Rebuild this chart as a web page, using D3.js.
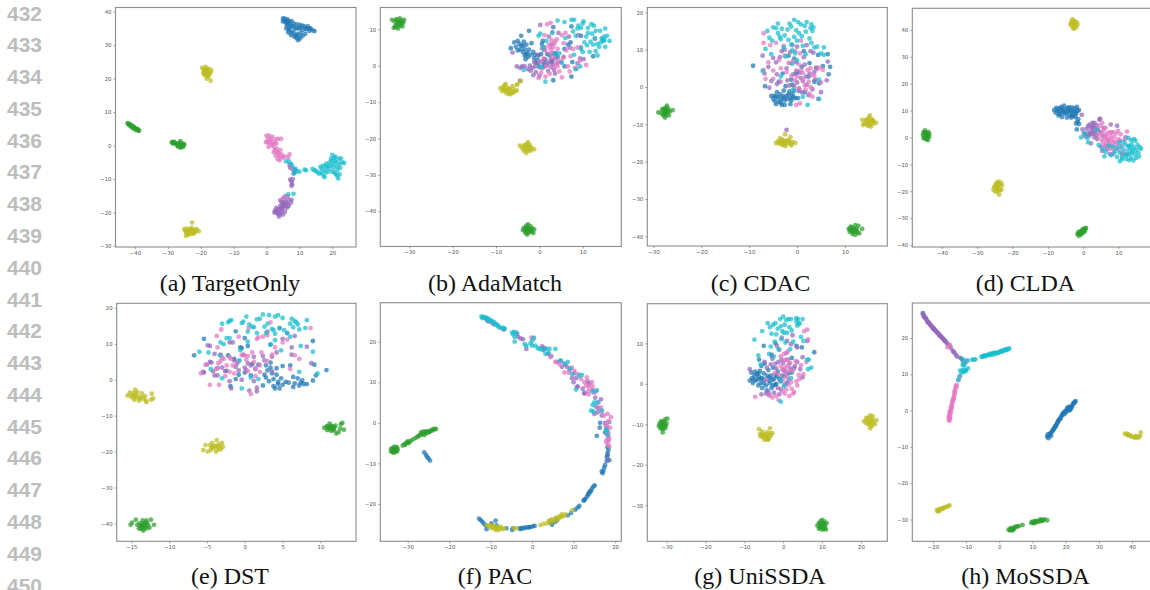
<!DOCTYPE html>
<html><head><meta charset="utf-8">
<style>html,body{margin:0;padding:0;background:#fff;overflow:hidden}svg{display:block}</style>
<script src="https://cdnjs.cloudflare.com/ajax/libs/d3/7.8.5/d3.min.js"></script>
</head><body>
<script>
const lineNumbers=[432,433,434,435,436,437,438,439,440,441,442,443,444,445,446,447,448,449,450];
const captions=["(a) TargetOnly","(b) AdaMatch","(c) CDAC","(d) CLDA","(e) DST","(f) PAC","(g) UniSSDA","(h) MoSSDA"];
const classNames=["blue","green","purple","pink","olive","cyan"];
const classColors=["#1f77b4","#2ca02c","#9467bd","#e377c2","#bcbd22","#17becf"];

const xTicks=[[-40,-30,-20,-10,0,10,20],[-30,-20,-10,0,10],[-30,-20,-10,0,10],[-40,-30,-20,-10,0,10],[-15,-10,-5,0,5,10],[-30,-20,-10,0,10,20],[-30,-20,-10,0,10,20],[-20,-10,0,10,20,30,40]];
const yTicks=[[-30,-20,-10,0,10,20,30,40],[-40,-30,-20,-10,0,10],[-40,-30,-20,-10,0,10,20],[-40,-30,-20,-10,0,10,20,30,40],[-40,-30,-20,-10,0,10,20],[-20,-10,0,10,20],[-30,-20,-10,0,10],[-30,-20,-10,0,10,20]];
const xDomains=[[-45.9,27.2],[-36.7,18.9],[-31.3,18.85],[-48.4,19.5],[-16.93,14.7],[-36.6,21.5],[-34.97,26.8],[-26.2,46]];
const yDomains=[[-30.3,41.25],[-49.7,16],[-42.6,21.3],[-40.7,48],[-45,21.3],[-29.2,29.6],[-38.9,19.8],[-36,29.6]];

const a_blue=[[5,38],[5.6,37.9],[6.4,37.7],[5,37.1],[5.8,36.8],[6.8,37],[7.6,37.2],[8.2,36.5],[9,36.2],[10,36.1],[10.8,35.8],[11.6,35.6],[12.6,35.6],[13.4,35],[14,34.4],[14.6,34.2],[13,34.3],[12,34.8],[11,34.5],[9.8,35],[8.6,35.2],[7.4,35.6],[6.2,35.9],[6,35],[6.8,34.5],[7.6,33.8],[8.2,34],[6.6,33.8],[7.4,33],[8.4,32.6],[9,32.2],[9.6,31.5],[10.2,32],[11,32.8],[11.8,33.4],[9.4,33.4],[10.4,33.6],[5.4,37.4],[6.2,37.2],[7,36.4],[8,35.6],[9.2,35],[10.4,35.2],[12,35],[13,35],[8.8,33],[9.8,32.6],[7,35],[6.4,36.4]];
const a_green=[[-42.2,6.7],[-41.8,6.3],[-41.3,6.1],[-41,5.7],[-40.5,5.6],[-40.2,5.2],[-39.8,5.1],[-39.3,4.7],[-38.7,4.4],[-41.6,6],[-40.8,5.3],[-39.9,4.7],[-42,6.5],[-41.5,6.4],[-41.1,6],[-40.7,5.8],[-40.3,5.5],[-39.6,5],[-39.1,4.9],[-39,4.5],[-28.8,0.9],[-28.4,0.6],[-28,1.1],[-27.6,0.6],[-27.2,0.3],[-26.8,0],[-26.4,0.8],[-26.2,-0.3],[-25.8,0.1],[-25.4,-0.4],[-25,0.4],[-26.2,1.3],[-27,-0.2],[-26,-0.5],[-25.2,0.1],[-28.6,1.1],[-28.2,0.8],[-26.6,0.4],[-26,0.6],[-25.6,0.6],[-26.4,-0.5],[-27,0.6]];
const a_purple=[[2.4,-20],[2.6,-19.4],[3,-18.6],[3.4,-20.4],[3.8,-19.6],[3.8,-21.2],[4.2,-18],[4.4,-20],[4.6,-17],[4.8,-19],[5,-20.6],[5.2,-16],[5.2,-18.2],[5.6,-19.8],[6,-17],[6.2,-18.6],[6.6,-16],[6.8,-18],[7.4,-17],[7.6,-16.2],[4.2,-16.4],[5.6,-15.2],[3,-20],[3.4,-19],[4,-20.6],[4.6,-18.6],[5,-17.6],[5.4,-17],[5.8,-18],[6.4,-17.4],[4.2,-19],[7.2,-10.2],[7.6,-10.8],[7.8,-11.6],[8,-10],[8.4,-8.2],[7.6,-12],[8.6,-8],[7.2,-6.6],[8.2,-7],[7,-5.8]];
const a_pink=[[0,3],[0.4,2],[0.8,3],[-0.2,1],[1,1.4],[1.2,0.4],[0.6,-0.4],[1.8,2.6],[2,1],[2.4,-0.6],[2.8,1.8],[3,0.6],[3.2,-1],[4.4,2],[2.2,-2],[2.8,-3],[3.2,-2],[3.4,-4],[3.8,-3],[4.2,-1.4],[4.6,-2.6],[5,-3.6],[5.6,-3.2],[4,-4.4],[7,-2.6],[6.6,-3.6],[7.4,-6.4],[7.8,-7],[6.4,-15],[5,-15.8],[0.4,1],[1.4,2],[1.6,0],[2.4,0.6],[3.4,2],[2.6,-1.4],[3.6,-2.2],[4.4,-3.4]];
const a_olive=[[-19.6,23.2],[-19,22.2],[-18.6,23.5],[-18.2,22.4],[-17.6,22.9],[-16.8,22.5],[-18.6,21.4],[-18,21],[-17.4,21.5],[-17,21.8],[-17.6,20.6],[-18.2,20],[-17,19.4],[-19.2,21.6],[-18.4,22.6],[-19,22.8],[-18,23],[-17.8,22],[-18.4,21.6],[-17.6,21.2],[-18.8,21],[-25,-25],[-24.6,-25.6],[-24.2,-24.8],[-24,-26.6],[-23.6,-25.2],[-23.2,-26],[-22.8,-24.6],[-22.6,-23],[-22.2,-25.2],[-22,-26],[-21.6,-25.6],[-21.2,-25],[-20.6,-25.6],[-24.5,-27],[-23.6,-26.6],[-22,-26.2],[-24,-25.6],[-23.4,-25.4],[-22.6,-25.8],[-23,-25],[-21.8,-25.2],[-24.4,-26],[-22.8,-26.4]];
const a_cyan=[[5.9,-4.7],[6.8,-4.8],[7.4,-5.4],[7.8,-6],[8.4,-7.2],[8.8,-7],[9.2,-7.6],[10,-7.8],[8.2,-8.4],[12,-7.4],[11.6,-7.2],[14,-7],[14.6,-7.4],[15,-7.6],[15.6,-8],[16,-8.4],[16.4,-6.4],[16.8,-7],[17.2,-6],[17.4,-9],[17.6,-9.4],[17.8,-7.6],[18.2,-5.4],[18.6,-6.2],[19,-7],[19.2,-5],[19.6,-4],[20,-2.8],[20.2,-5.6],[20.4,-6.6],[20.6,-8],[20.8,-4.6],[21,-3.4],[21.4,-6.2],[21.6,-7.2],[21.8,-9.8],[22,-4],[22.2,-8.6],[22.2,-5.4],[22.6,-3.8],[23,-5],[23.6,-5.2],[21.4,-9],[19.8,-7.8],[6.6,-14.6],[8.2,-14.4],[18,-6.4],[19.4,-6],[20,-4.6],[20.6,-3.6],[21.2,-5],[21,-8.4],[18.4,-8],[16.8,-8.2],[22.4,-6.6]];

const b_blue=[[-6.6,4.8],[-5.8,6.4],[-5.4,5.2],[-5,6.8],[-5,4.2],[-4.6,6],[-4.2,8.2],[-4.2,5.4],[-3.8,3.8],[-3.6,6.6],[-3.4,4.6],[-3.4,2.8],[-3,5.8],[-3.2,1.8],[-2.8,3.6],[-2.6,2.4],[-2.4,4.4],[-2.4,9.6],[-2,3],[-1.8,6.2],[-1.4,3.8],[-1.2,2],[-0.8,0.8],[-0.4,1.6],[-0.2,2.8],[0,-0.4],[0.4,3.2],[0.6,6],[0.8,6.8],[1,4.4],[1.2,1.8],[1.4,0.6],[1.8,3.2],[2.4,2.8],[2.8,1],[3.4,3.4],[3.8,3.4],[4.2,2.4],[3.2,-4],[3.2,10.6],[5.8,4.6],[5.8,-0.2],[6.6,5.8],[7.2,6.4],[7.4,10.8],[7.4,-3],[7.6,1],[12.4,2.6],[9.6,8.2],[-4.4,4.4],[-3.8,5.6],[-3,3.2],[-1,3],[-0.2,0.6],[1,0.2]];
const b_green=[[-34,12.6],[-33.4,12.2],[-33.2,11],[-33,12.8],[-32.8,11.6],[-32.6,10.2],[-32.4,12.2],[-32.2,13],[-32,11.2],[-31.8,12.4],[-31.6,10.8],[-31.4,11.8],[-33.6,10.4],[-31.2,12.6],[-32.4,11],[-32.8,12.4],[-32,12],[-32.6,11.4],[-33.2,10.6],[-31.6,12],[-3.8,-45.2],[-3.6,-44.6],[-3.2,-46],[-3,-44],[-3,-45.2],[-2.8,-46.4],[-2.6,-43.6],[-2.4,-44.8],[-2.4,-45.8],[-2,-44.2],[-2,-45.4],[-1.6,-44.8],[-1.4,-46],[-1.2,-45],[-2.8,-44.6],[-3.3,-45.4],[-2.6,-45.2],[-2.2,-45],[-3.2,-44.6],[-2.8,-45.8],[-1.8,-45.6]];
const b_purple=[[-6.2,3.6],[-5.2,-0.2],[-4.4,-0.6],[-4,-0.2],[-3.4,-0.2],[-2.6,-1],[-2.2,0],[-2,-1.4],[-1.6,-0.6],[-1.4,-2.6],[-1,-0.2],[-0.8,-1.8],[-0.4,3],[0,-2.8],[0.2,11.2],[0.6,1.2],[1,-0.4],[1.4,1.6],[1.8,0],[2,-1.4],[2.2,8],[2.6,1.6],[2.8,-0.4],[3.2,0.4],[3.4,-1.2],[3.6,2],[3.6,-2.2],[4.4,9],[4.2,0.8],[5,1],[5.6,2.4],[6.8,8],[7,5],[8.8,0.6],[9,8.4],[9.6,5],[9.4,2],[10.2,1.8],[12.8,7.4],[1.2,5],[2.8,5.8],[-4.5,-4.2],[-1.2,1],[2.2,0.8],[3,1.4]];
const b_pink=[[-0.2,-3.4],[0,1],[0.4,-2],[0.6,-0.8],[1,2],[1.2,8.4],[1.4,4.2],[1.6,0],[1.8,11.4],[2.2,5.8],[2.4,3.4],[2.4,-2.2],[2.6,11.8],[2.8,7],[3,9.2],[3.2,5.2],[3.2,2.4],[3.4,-0.6],[3.6,6.6],[3.8,0.4],[4,7.2],[4.2,4.6],[4.2,-0.2],[4.4,1.4],[4.6,-1.6],[5.2,-3.2],[5.2,8.4],[5.4,2],[5.6,6.2],[6,9],[6.2,4.2],[6.6,-0.2],[7,-1.6],[7.2,2.6],[7.8,4.6],[8.2,-0.6],[8.8,5],[8.6,-0.8],[10.8,0.2],[9.4,1.4],[0.6,4.8],[3,3.4],[2.4,5],[3.4,6],[2.8,4.4],[1.4,-3]];
const b_olive=[[-9,-6.2],[-8.6,-7],[-8.4,-5.8],[-8,-6.8],[-7.8,-5],[-7.6,-7.6],[-7.4,-6],[-7,-7.8],[-6.8,-6.6],[-6.4,-7.4],[-6.2,-5.6],[-6,-7.4],[-5.6,-7],[-5.2,-6.8],[-5.1,-5.2],[-7.6,-6.8],[-4.3,-4.2],[-5.2,-5.2],[-8.2,-6.4],[-7.2,-7],[-6.6,-7.8],[-8,-5.4],[-6,-6.4],[-7,-6.4],[-4.5,-22],[-4,-22.6],[-3.6,-22],[-3.4,-23],[-3.2,-21.8],[-2.8,-23.4],[-2.8,-22.2],[-2.6,-21],[-2.2,-23],[-2.2,-21.8],[-1.8,-22.6],[-1.2,-23],[-3,-24],[-3,-22.8],[-2.4,-22.4],[-3.4,-22.4],[-2,-23.4],[-2.8,-21.4],[-3.6,-23.4]];
const b_cyan=[[-3.6,-1.2],[-0.2,8.2],[0.2,8.8],[0.6,-0.4],[0.8,5],[1.4,-4.4],[1.6,6.8],[3,9],[3.4,3.2],[4.2,12.4],[4.6,3.4],[5.2,0.8],[5.8,12],[6,7.6],[7.4,12.6],[7.8,9.4],[8,12.6],[8,3],[8.4,8.2],[8.4,-1],[8.8,10.2],[9,11],[9.4,-0.2],[9.6,10.4],[9.6,4.6],[10,11.6],[10,3.8],[10.2,12.2],[10.4,6.4],[11,5.6],[11.2,9],[11.2,10.4],[11.6,3.8],[11.8,6.6],[12,11.4],[12.2,8.8],[12.4,5.8],[12.6,11],[13,9.6],[13,4],[13.4,6],[13.8,5.2],[14,9.6],[14.4,7.6],[14.8,6.8],[15,8],[15.2,10.2],[15.2,5.2],[15.6,8.2],[16.2,6.8],[14.6,7.2],[13.4,2.8],[14.2,6.4],[15,7],[12.8,7.6],[10.8,8]];

const c_blue=[[-9.2,5.7],[-6.7,0.2],[-5.4,-2.4],[-5,-3.2],[-4.8,-2.4],[-4.6,-3.8],[-4.4,-4.6],[-4.2,-1.4],[-4,-2.8],[-3.8,-4],[-3.6,-2],[-3.4,-3.2],[-3.2,-4.8],[-3,-2.4],[-3,3.6],[-2.8,-1],[-2.6,-3.6],[-2.6,-4.8],[-2.4,0.2],[-2.2,-2.4],[-2,-3.2],[-1.8,-2],[-1.6,-1.2],[-1.4,-4.6],[-1.4,-3],[-1.2,2],[-1,-2],[-1,0.6],[-0.8,-2.6],[-0.6,-1],[-0.4,-3],[-0.2,3.6],[0,4.2],[0.2,-3],[0.4,-1],[1,5.4],[1.6,-1.4],[2.4,2.8],[2.6,6.4],[3.6,1.4],[4.6,1],[4,5],[5.4,5.6],[6.4,8.8],[6.6,3.4],[6.9,5.4],[4.4,8.6],[-1.8,8.4],[-3.4,-4.2],[-2.8,-3],[-4.4,-2.6],[-1.2,-3.6],[-3.8,1.4],[-0.6,7.6],[1.4,9.6]];
const c_green=[[-29,-6.8],[-28.4,-7],[-28.2,-6],[-28,-7.6],[-27.8,-6.4],[-27.6,-8.2],[-27.4,-5.6],[-27.4,-7],[-27.2,-5],[-27,-6.4],[-26.8,-7.6],[-26.6,-6.6],[-26,-6.2],[-27.6,-6.8],[-27.9,-5.8],[-27.6,-6],[-27.2,-6.8],[-27.8,-7.2],[-26.9,-5.8],[-27.4,-7.6],[10.8,-38],[11,-38.8],[11.2,-37.4],[11.4,-38.4],[11.6,-39.4],[11.8,-37.8],[12,-38.6],[12.2,-37],[12.2,-39.6],[12.4,-38],[12.6,-39],[12.8,-37.2],[13,-39.2],[13.6,-38],[11.8,-38.2],[11.4,-37.6],[12.2,-38.2],[11.6,-38.8],[12.4,-38.6],[11,-38.2]];
const c_purple=[[-7.2,8.4],[-6.8,3.6],[-6,5.4],[-5.8,-0.2],[-5.4,1.6],[-5,7.8],[-4.4,6.6],[-4.2,3.4],[-4.2,0.8],[-3.6,8],[-3.2,9.6],[-2.6,10],[-2.2,5],[-2,1.8],[-1.6,0.4],[-1.4,9.4],[-0.8,3.4],[-0.6,0.2],[-0.2,6.6],[0,1.2],[0.4,-0.4],[0.6,3.8],[0.8,2.4],[1,-1.4],[1.4,8],[1.6,6],[2,0.6],[2.4,-2.2],[2.6,3.6],[2.8,9.6],[3.2,-0.6],[3.4,9.2],[3.8,2],[3.6,4],[4,5.2],[4.4,-3.2],[5,-1.4],[6.2,1.8],[6.4,6.8],[1.8,2.8],[-2.2,-11.5],[0,10.8],[-1,11.2],[2,11.2],[1.2,1.6]];
const c_pink=[[-7,14.4],[-7,11.8],[-7,4.6],[-6.6,2.2],[-6,6.6],[-5.6,11.2],[-5,4.4],[-5,2.2],[-4.4,11.8],[-3.8,7.2],[-3.4,5],[-3.4,1.4],[-2.6,8.4],[-2.2,4],[-1.8,6.4],[-1.4,6.4],[-1.2,3],[-0.8,7],[-0.4,1.8],[-0.2,4.4],[0,2.8],[0.4,6],[0.4,-0.6],[0.6,-4.4],[0.8,4.6],[1.2,2],[1.2,3.8],[1.6,0.4],[1.8,-0.8],[2.2,4.6],[2.4,1.4],[2.6,-1.8],[2.8,5],[3,3.2],[3.2,-2.6],[3.6,3],[4.2,4.8],[4.8,5.2],[5,1.2],[5.4,4.6],[-0.2,-4.8],[2.8,0],[0.8,12.4],[-0.4,9.6],[-2.8,11],[0.6,9]];
const c_olive=[[15.9,-9.8],[15.6,-8.6],[15.2,-7.6],[15.2,-9.2],[15.2,-10.2],[14.8,-8.6],[14.6,-10],[14.4,-9.2],[14,-9.8],[13.6,-8.8],[15.8,-9],[16.5,-9.6],[14.9,-9.4],[13.8,-10.2],[15.4,-10.6],[15,-8.2],[14.4,-8.8],[15.6,-9.6],[14.8,-10.4],[16,-9.2],[-4.4,-15],[-4,-14.6],[-3.6,-13.8],[-3.6,-15.2],[-3.2,-14.6],[-3,-15.6],[-2.8,-14.4],[-2.4,-15.8],[-2.4,-14.6],[-2,-15],[-1.8,-14.2],[-1.4,-15.2],[-1.4,-13.4],[-1,-14.8],[-0.4,-15],[-2.5,-12.7],[-3,-15],[-3.8,-15],[-2.6,-15.2],[-1.6,-14.6],[-3.2,-14],[-1.2,-15.6],[-2.2,-14.4]];
const c_cyan=[[-7.2,4.3],[-6.6,10.2],[-6.2,15],[-5.2,12.4],[-5.4,8.8],[-5,16],[-4.4,15.8],[-4,14.4],[-4,17],[-3.6,13.4],[-3.4,12.8],[-3.2,15.6],[-2.8,10.6],[-2.6,13.8],[-2.4,8.2],[-2,15.4],[-1.8,12.6],[-1.6,17],[-1.2,11.4],[-1,6.2],[-1.2,16.2],[-0.6,13.4],[-0.4,9],[-0.6,18],[-0.2,15.2],[0,12.4],[0.2,17.4],[0.4,14.4],[0.8,16.8],[1,13.6],[1.2,11],[1.6,16.4],[1.8,14.8],[2,17.4],[2.2,-4.8],[2.6,13],[2.8,15.8],[3,16.8],[3.2,15],[3.4,16],[3.6,10.6],[4.2,10.8],[4.6,-3.2],[4.6,2],[5.6,10.6],[5,9],[-0.8,-0.8],[1.2,-2.6],[-3.4,2.8],[-5.8,13.2],[-1,9.8],[1.8,8.8],[3,11.8],[0,7.2],[5.6,8.6]];

const d_blue=[[-8.2,10.2],[-7.8,9.2],[-7.6,11],[-7.2,9.8],[-7,8.2],[-6.8,10.8],[-6.4,9.2],[-6.2,11.4],[-6,7.6],[-5.8,10],[-5.4,11.8],[-5.2,8.8],[-5,10.4],[-4.6,7.4],[-4.4,9.6],[-4.4,11],[-4,8.4],[-3.8,10.2],[-3.4,7.4],[-3.2,9.2],[-3.2,11.2],[-2.8,8],[-2.6,9.8],[-2.4,10.8],[-2.2,7.6],[-2,8.8],[-1.8,11.4],[-1.4,6.8],[-1.6,9.8],[-1.2,10.2],[-1.6,5.8],[-2,5.2],[-1.2,5],[-1.8,3],[-5.6,9.6],[-4.8,9.2],[-6.6,8.6],[-3.2,8],[-7,10.4],[-6,10.6],[-4,11.2],[-3.4,9.8],[-2.2,9.2]];
const d_green=[[-45.4,1],[-45.2,-0.2],[-45.2,2],[-44.8,0.4],[-44.8,2.6],[-44.6,1.4],[-44.4,-0.6],[-44.4,1.8],[-44.2,0.4],[-44,-1],[-44,1.2],[-43.8,2],[-43.6,0.2],[-43.6,1.2],[-44.6,0.6],[-45,1.6],[-44.2,1],[-44.9,-0.4],[-44.2,-0.2],[-1.6,-36],[-1.4,-35.2],[-1.2,-36.6],[-1,-35.6],[-0.8,-34.8],[-0.6,-36],[-0.4,-35.2],[-0.2,-34.2],[0,-35],[0.2,-34.6],[0.4,-33.8],[0.6,-34.2],[0.8,-33.6],[-0.2,-35.6],[0.4,-35],[-0.8,-35.4],[0,-34.4],[-1.2,-35.8]];
const d_purple=[[-0.2,3],[0.2,1.4],[0.6,0.4],[1,3.2],[1.2,1.4],[1.6,0.6],[1.8,4.8],[2,2.2],[2.2,-2.2],[2.4,3.4],[2.6,5.4],[2.8,1.4],[3,3.8],[3.2,0],[3.2,5.4],[3.4,2.2],[3.8,4.6],[3.8,1],[4,-0.6],[4.2,3],[4.6,6.6],[4.8,2],[4.8,7],[5,-3.4],[5.4,-5],[5.6,0.6],[5.8,3.6],[6.4,-3.2],[6.8,-4.4],[7.8,4.8],[7.6,-6.2],[8.6,-6],[9.6,4.4],[10.4,-1.2],[11,-6.2],[12,0],[2.6,4],[1.4,4.2],[3,2.8],[2.2,1.2],[3.6,3.4],[-0.4,8.4]];
const d_pink=[[3.6,3],[4.4,0.6],[4.8,4.4],[5.2,-0.8],[5.2,1.8],[5.6,-1.8],[5.8,2.6],[6.2,-0.4],[6.2,0.8],[6.4,3.6],[6.6,-2.2],[6.8,1.4],[7,-3.8],[7.2,-1],[7.4,2],[7.6,-2.8],[7.8,0.4],[8,-0.8],[8.2,-3.2],[8.4,2],[8.6,-4.4],[8.8,0],[9,-1.6],[9.2,1.4],[9.4,-3.4],[9.8,2.4],[10,-0.6],[10.2,-4.6],[10.6,1.2],[11,-3],[11.4,-5.6],[11.8,-0.8],[12.4,-6.4],[12.4,2.2],[7.6,-4.2],[6.6,0],[8,1.8],[5.4,5.4],[6.8,-1],[7.4,-2],[8.6,-1.8],[6,-3],[9.6,-2.2]];
const d_olive=[[-3.6,42],[-3.4,43],[-3.2,41.4],[-3,44],[-3,42.4],[-2.8,40.4],[-2.6,41.8],[-2.4,43.2],[-2.2,42.4],[-2,41],[-1.8,42.8],[-1.6,42],[-2.9,43],[-3.2,42.4],[-2.4,40.6],[-2.6,42.6],[-2.2,41.6],[-25.4,-19.4],[-25.2,-18.4],[-25,-20],[-24.8,-17.8],[-24.6,-19],[-24.4,-16.8],[-24.4,-20.2],[-24.2,-18],[-24,-16.4],[-24,-19.4],[-23.8,-21.2],[-23.6,-17.4],[-23.6,-19.6],[-23.2,-16.8],[-23,-17.8],[-24.6,-17.2],[-23.2,-19.4],[-24.2,-17.4],[-24.6,-18.6],[-24,-18.6]];
const d_cyan=[[-0.6,0],[0.4,1.6],[1.2,-0.2],[1.4,-1.8],[3.8,2.8],[4.4,-2.8],[5.6,-4.2],[6,-7],[6.4,-5.4],[7.2,-3],[8,-6.6],[8.4,-3.4],[9,-5.2],[9.6,-7.2],[9.6,-4],[10.2,-2],[10.4,-5.6],[10.4,-8.8],[10.6,-3.4],[11,-7.4],[11,-8],[11.4,-1.6],[11.4,-4.4],[11.8,-6.4],[12,-2.6],[12.2,-8],[12.6,-5],[12.8,-0.2],[12.8,-3.4],[13,-8.4],[13.2,-6.2],[13.4,-4],[13.6,-1],[13.6,-7.6],[13.8,-2.6],[13.8,-5.6],[14.2,-8.6],[14.4,-0.6],[14.4,-3.8],[14.6,-6.2],[14.8,-1.2],[15,-4.6],[15,-7.6],[15.4,-2.8],[15.6,-5.6],[16,-3.6],[16.4,-4.2],[15.8,-7],[14,-4.8],[12.4,-6.6],[13,-3]];

const e_blue=[[-6.7,6.8],[-5.4,11.4],[-2.4,2.5],[-1.9,-1.8],[-1.4,5.8],[-1.2,0.2],[-1.2,13.5],[-0.8,1.4],[-0.6,9],[-0.4,8.8],[0,2],[0,11.6],[0.4,9.4],[0.8,1.2],[1,4.4],[1.8,4.2],[2.4,-1.6],[2.6,1.4],[2.8,4],[2.8,0.6],[3,2.6],[3.2,-0.4],[3.4,4.8],[3.6,1.8],[3.8,0.2],[3.8,-1.8],[4,-2.4],[4.2,3.2],[4.2,1.4],[4.4,-0.6],[4.6,-2.4],[4.8,0.4],[5,-1.4],[5,3.8],[5.4,-0.6],[5.8,-0.8],[6,4],[6.4,-2],[6.4,0.8],[6.6,-1],[7,0.4],[7.2,-1.6],[7.4,-0.8],[7.6,-0.2],[7.8,-1.2],[8.2,-1.2],[9,-0.2],[9.4,1.2],[10.8,2.7],[9,10.8],[9.2,4.2],[3.4,9.8],[3.4,3.4],[4.4,-1.2],[-2.2,6.8]];
const e_green=[[-15.1,-40.4],[-14.9,-39.8],[-14.4,-39],[-14.2,-40.4],[-14,-41.4],[-13.9,-40],[-13.6,-41],[-13.5,-39.2],[-13.4,-42],[-13.2,-40.4],[-13,-41.4],[-13,-39.2],[-12.8,-40.6],[-12.6,-41.2],[-12.4,-39],[-12,-40.4],[-13.6,-40.4],[-13.2,-41],[-13.8,-40.8],[-13.4,-40],[-12.9,-40],[-13.4,-41.4],[-13.1,-39.8],[-13.7,-41.6],[10.5,-13.4],[10.8,-13],[10.9,-14],[11.2,-12.2],[11.2,-13.4],[11.4,-14.2],[11.6,-13],[11.8,-13.8],[12,-12.8],[12.1,-15],[12.4,-14.6],[12.6,-13.6],[12.7,-12.4],[12.9,-12],[13.1,-13.9],[11.5,-13.4],[11.1,-13.6],[11.4,-12.8],[11.8,-13.2],[11,-13],[11.7,-14.1]];
const e_purple=[[-5.5,2.2],[-5.4,2],[-5,4.2],[-4.9,9.6],[-4.6,9.4],[-4.6,5],[-4.4,4.8],[-4.2,2.4],[-4,7.2],[-4,1.2],[-3.6,3.2],[-3.6,1.2],[-3.2,7],[-3,3.4],[-2.6,2.4],[-2,10.4],[-1.8,-2.4],[-1.6,10.4],[-1.4,5.4],[-1,4.6],[-0.8,2.6],[-0.4,0],[0,3.4],[0.2,2.6],[0.6,-3],[0.8,4],[1.2,6.4],[1.2,-0.4],[1.6,-2.2],[1.6,-3.2],[2.4,6.6],[2.6,5.4],[3,13.4],[3.6,2.4],[3.6,6.4],[4.2,7.6],[4.6,14.4],[5,11.4],[5.6,13],[6.2,9],[6.2,7],[6.6,12.2],[8.8,4.6],[8.2,9.2],[1.4,3],[-0.2,7],[-1.2,3.6],[-2,-0.4],[0.4,4.6]];
const e_pink=[[-5.8,1.8],[-5.2,4.2],[-4.6,-1.4],[-3.7,12.2],[-3.6,9],[-3.5,4.6],[-3.4,-1.4],[-3.2,5.2],[-3.1,14],[-3,6.2],[-2.8,5.8],[-2.6,1],[-2.4,4],[-2,6.2],[-2,2.2],[-1.8,5.8],[-1.4,1.8],[-0.8,12],[-0.8,5.2],[-0.4,6.8],[0,6.8],[0.2,5.6],[0.4,6.6],[0.4,2.4],[0.5,14.4],[0.8,-4],[1,7.6],[1.2,5],[1.4,3.2],[1.6,11.4],[1.8,11.8],[2,4],[2.2,7.6],[2,2.2],[2.4,12],[3,12.4],[3.4,16],[3.6,7],[4,9],[5,10.4],[5.6,11.2],[6.6,6.8],[7.2,5.8],[8.7,14.4],[3,5.2],[6,3],[-1.6,4],[1.4,1],[-3.8,3]];
const e_olive=[[-15.5,-4.4],[-15.2,-3.6],[-15,-4.8],[-14.8,-3.8],[-14.6,-5.6],[-14.5,-2.8],[-14.4,-4.4],[-14.2,-3.4],[-14,-5.8],[-13.8,-4.8],[-13.6,-3.8],[-13.4,-5.2],[-13.1,-5.8],[-13,-6.2],[-12.3,-3.9],[-12.4,-5.6],[-12.1,-5.2],[-14.6,-5],[-13.2,-4.6],[-14.8,-4.4],[-14.2,-4.8],[-13.8,-5.4],[-14.4,-3.8],[-5.5,-19.6],[-5.2,-18.2],[-4.9,-20],[-4.6,-18.2],[-4.5,-19.6],[-4.3,-17.6],[-4.2,-19],[-3.9,-18.4],[-3.8,-20],[-3.7,-16.8],[-3.6,-19.4],[-3.4,-18],[-3.2,-19.4],[-3,-17.6],[-2.9,-18.7],[-4.1,-18.6],[-3.6,-18.4],[-3.3,-18.8],[-4.4,-18.8]];
const e_cyan=[[-6,7.8],[-4.8,7.6],[-4.5,3],[-3.3,6.8],[-3.2,10.4],[-2.8,9.9],[-3,0.4],[-3,15.6],[-2.4,11.6],[-2,11.6],[-2.2,16],[-2,16.4],[-1.8,16.6],[-0.7,5.4],[-0.4,-2.4],[-0.4,15.8],[-0.2,16.2],[0.2,17.6],[0.4,10.6],[0.4,13.4],[0.6,15.4],[0.8,0.6],[1,14.8],[1.2,14.6],[1.6,16.8],[1.6,13],[1.8,0.2],[2,17],[2.4,18.2],[2.6,14.8],[2.8,13],[3,15.6],[3.2,18],[3.4,9.8],[3.6,14.2],[3.8,13.8],[4,17.6],[4,11],[4.4,18],[4,12.8],[4.6,14.4],[4.8,8.2],[5,17.2],[5.2,13.8],[5.6,13],[6,15.6],[6.2,17],[6.4,14.6],[6.6,16.4],[6.8,16],[7,15.4],[7.2,14],[7.2,2.2],[7.4,9.4],[8,14.4],[8.2,16.6],[9,7.8],[9.6,1.8],[6,12],[-0.6,8.2]];

const f_blue=[[-26,-7.3],[-25.6,-7.9],[-25.3,-8.4],[-25,-8.8],[-24.6,-9.3],[-12.8,-23.6],[-12.4,-24],[-12,-24.4],[-11.6,-24.9],[-11.2,-25.3],[-11,-26.2],[-9.8,-24.8],[-8.8,-24.1],[-8.6,-25.3],[-8.2,-25.9],[-6.2,-26],[-4.8,-26.4],[-4.6,-26],[-3,-26],[-2.8,-26.2],[-2.4,-25.9],[-1.6,-25.8],[-1,-25.8],[-0.4,-25.7],[0.2,-25.5],[0.6,-25.4],[4.4,-24.6],[4.8,-25.1],[5,-24.4],[5.6,-24.4],[5.8,-23.6],[6,-24],[8.6,-22.8],[9.4,-22.2],[10.4,-21.4],[11,-20.9],[11.4,-20.5],[12.4,-19.2],[12.8,-18.8],[13.2,-18.2],[13.5,-17.7],[13.8,-17],[14.2,-16.8],[14.4,-16.2],[14.8,-15.7],[15.1,-15.4],[16.8,-12],[17.2,-11.8],[17.4,-11],[17.6,-10.4],[18,-9.4],[18,-8.4],[18.2,-7.4],[18.4,-6.6],[18.2,-8],[18.2,-6],[18.6,-9.2],[16.4,0],[16.3,-1.2],[17.6,-2.4],[15.6,-3.2],[-2,-26],[-0.7,-25.7],[12.6,-19],[13.6,-17.5],[14,-17],[17,-12.4]];
const f_green=[[-33.8,-6.8],[-33.6,-6.2],[-33.6,-7.2],[-33.2,-6.4],[-33,-7],[-32.8,-6.2],[-32.8,-6.9],[-32.4,-6.6],[-33.4,-6.8],[-33.2,-5.9],[-33.3,-7.4],[-32.6,-7.1],[-32.6,-6],[-34,-6.4],[-34,-7.1],[-31.2,-5.6],[-30.8,-5.3],[-30.4,-5],[-30,-4.6],[-29.6,-4.7],[-29.2,-4.4],[-28.6,-4],[-28,-3.7],[-27.6,-3.4],[-27,-3],[-26.6,-2.8],[-26.2,-2.6],[-26,-3],[-25.6,-2.6],[-25.2,-2.4],[-25,-2.1],[-24.6,-2],[-24.2,-1.9],[-23.8,-1.5],[-23.4,-1.6],[-23.2,-1.5],[-26.4,-2.2],[-25.8,-2.2],[-27.3,-3.2],[-26.8,-2.4],[-25.6,-2.2],[-24.8,-2.3],[-24,-1.8],[-30.6,-5.4],[-30.2,-4.9],[-29.8,-5]];
const f_purple=[[-11,25.5],[-10.6,25],[-10.2,25.2],[-9.8,24.8],[-9.4,24.4],[-7,23.2],[-6.8,23],[-3.6,22],[-3.4,21.2],[-2.8,20.8],[-2.2,20.6],[-1.4,18.2],[2.4,18.8],[2.8,18],[3,18.4],[3.8,17],[4.6,16.4],[6,15],[7,15.2],[7.2,13.8],[8,14.4],[8.4,13.8],[9,13],[10.2,12.2],[10.6,11],[9.6,11],[10,10],[11,9],[10.8,8.8],[12.2,8.4],[12.6,7.4],[13.4,10.2],[13.8,9.6],[12.6,7.2],[14.6,8],[15.2,6.2],[16.6,5.8],[15.4,4],[16,3.6],[15.8,2.6],[15,2.2],[16.8,1.8],[17.6,0],[18.6,0.2],[18,-0.8],[18.2,-9]];
const f_pink=[[4.4,16.2],[5.6,15],[6.6,14.4],[7.8,12.4],[8.8,12.4],[9.6,13.6],[10.2,12.8],[11,12],[11.8,10.8],[12.6,10],[13.2,11.2],[13.6,9.2],[13.8,8.4],[14.4,10],[14.6,9],[15,7.4],[13,9.2],[13.4,7.6],[13.6,7],[15.4,7.8],[16,5],[16.6,3.8],[16.8,3],[17.4,1.8],[18.2,2.2],[19,1.4],[18.4,0.4],[17.6,-0.6],[18.8,-1.2],[18.2,-2],[18,-2.8],[18.2,-4],[18.4,-4.6],[18.2,-5.4],[18.6,-5.8],[18.4,-3.4],[-9.6,24.8],[-0.2,21],[0.4,20.8],[18,-1.2],[17.8,-4.6],[18.4,-2.6],[18.6,-4]];
const f_olive=[[-11,-25.2],[-10.4,-25.4],[-10,-25.8],[-9.4,-25.6],[-9,-26],[-8.6,-26.1],[-8.2,-26.5],[-7.8,-26],[-7.2,-26.2],[-6.8,-26],[-4.4,-26],[-3.8,-26],[2,-25.2],[2.8,-24.9],[3.6,-24.8],[4,-24.2],[4.4,-24],[4.8,-23.8],[5.6,-24.2],[5.8,-23.4],[6.6,-23.4],[7,-23.2],[7.6,-23],[8,-22.6],[9.6,-21.6],[-9.6,-25.9],[-8.4,-25.7],[5,-24.2],[6.2,-23.7],[-7.6,-25.6],[-9,-25.4],[-8.8,-26.4],[4.4,-24.6],[6.6,-23],[7.2,-22.6],[-10,-25.3]];
const f_cyan=[[-12.2,26.2],[-11.8,26.1],[-11.4,25.8],[-11,25.8],[-10.4,25.6],[-9.8,25.2],[-9.2,24.8],[-8.8,24.4],[-8.4,24.2],[-8,23.6],[-7.6,23.4],[-7,23.4],[-6.6,23.2],[-4.8,22.2],[-4.4,22.4],[-4.2,21.2],[-4.2,20],[-3.8,22.2],[-1.8,19.4],[-1.4,19],[-0.4,19.6],[0,20.2],[0,19],[0.4,21],[0.8,19],[1.4,18.4],[1.8,18.2],[2.4,18],[3.2,17],[3.4,18.2],[4,17.2],[4.2,18.2],[5.6,18.2],[6.8,15.4],[7.8,14.6],[8.6,15],[9.2,13.4],[9.6,12],[11.4,11.6],[12,11.8],[10.6,8.2],[14.6,7.6],[15.6,8],[15,5],[14.6,4.4],[14.2,3],[14.8,2.8],[15.8,5],[16.8,3],[18,-2],[18.2,-3],[17.8,-1.6],[-12,25.8],[-11.2,26],[-10.8,25.3],[-10,25],[-9,24.2],[-8.2,23.8],[-4.6,21.8]];

const g_blue=[[-8.6,0.8],[-8.2,2.8],[-8,1.4],[-7.8,0.2],[-7.4,2],[-7.2,3],[-7,0.8],[-6.8,2.4],[-6.6,1.2],[-6.4,-0.4],[-6.2,1.8],[-6.2,6],[-6,3.2],[-5.8,0.2],[-5.6,4.4],[-5.4,1.4],[-5.4,-1],[-5,9.4],[-5,2.6],[-4.8,1],[-4.8,5],[-4.4,-0.4],[-4.2,2],[-4.2,-1.6],[-3.8,0.8],[-3.8,3.4],[-3.4,0.2],[-3.2,2],[-3,-1],[-2.8,1],[-2.6,4],[-2.4,1.2],[-2,-0.2],[-2,2.2],[-1.8,0],[-1.4,3],[-1,1.2],[-0.6,0.6],[-0.2,2],[0.4,3.2],[1.4,2.6],[1,0.2],[2.2,2.8],[2.2,6.4],[3.4,9.4],[4.8,9],[8,7.8],[-3,7],[-2,10],[-7.6,1],[-6.4,2.6],[-5.8,1.2],[-5,0.2],[-3.6,1.6],[-2.6,-0.4],[-1.6,1.8]];
const g_green=[[-32,-10.4],[-31.8,-9.8],[-31.6,-11],[-31.4,-9.2],[-31.2,-10.2],[-31,-11.2],[-31,-12],[-30.8,-9.4],[-30.6,-10.4],[-30.4,-8.8],[-30.4,-11],[-30,-9.8],[-29.8,-8.6],[-31,-10.2],[-30.2,-10.4],[-31.4,-10.6],[-30.8,-10.8],[-31.2,-9.6],[-30.6,-9.6],[8.8,-35],[9.2,-34.4],[9.2,-35.8],[9.6,-34],[9.6,-35.2],[10,-33.6],[10,-36],[10.2,-34.8],[10.4,-35.8],[10.6,-34],[10.8,-35],[11,-36],[11.2,-34.4],[9.8,-35],[10.4,-34.4],[9.6,-34.6],[10.2,-35.4],[10.8,-35.6],[9.4,-35.4]];
const g_purple=[[-8.6,3.6],[-5.6,-2.6],[-4.8,5.4],[-4.4,-2.4],[-4.2,4],[-3.8,-2],[-3.6,-2.8],[-3.2,4.8],[-3,7.2],[-2.8,6.2],[-2.4,-2.2],[-2,5],[-1.8,3.8],[-1.6,9.4],[-1.4,-1],[-1,-2.6],[-1,8.4],[-0.6,-1.4],[-0.4,6],[0,5.2],[0,3.4],[0.4,-0.2],[0.8,7.6],[1,10.6],[1.2,6],[1.4,1],[1.8,3.8],[2,9.8],[2.4,12],[2.8,3.8],[3,4.4],[3.6,9],[3.6,5.4],[4.4,3.6],[5,1.6],[6.2,10.6],[5,6.6],[-0.4,11.4],[-1.2,5.4],[0.6,2],[1.6,5]];
const g_pink=[[-7.2,-3.2],[-4.4,1],[-3.6,-2.8],[-2.8,-3.4],[-2.2,2.6],[-1.8,-3],[-1.2,-4],[-1,2.2],[-0.6,4.4],[-0.2,-1.8],[0,1],[0.2,7.4],[0.4,5.8],[0.4,-2.4],[0.6,3],[0.8,-1.4],[1,4.4],[1,1.8],[1.2,8],[1.4,-0.2],[1.6,-3],[1.8,5.2],[2,0.4],[2.2,-1.2],[2.4,3.2],[2.6,-2.4],[2.8,-2],[3.2,5.6],[3.4,0.6],[3.6,-0.4],[4,2.2],[4.2,1.2],[4.6,4.6],[5.2,2.4],[5.4,13],[6,5.4],[6.2,13.4],[6.4,11],[0.8,6],[-0.2,3.6],[-0.6,6.8],[0.4,4],[1.6,3.2]];
const g_olive=[[-6.2,-11.2],[-6,-12.4],[-5.8,-13],[-5.4,-11.8],[-5.2,-13.2],[-5,-12.6],[-4.8,-13.8],[-4.4,-12.4],[-4.2,-13.8],[-4,-12.8],[-3.6,-13.4],[-3.4,-12.2],[-3.4,-11],[-3.2,-12.8],[-2.8,-12.2],[-4.8,-12.8],[-5.4,-12.6],[-4.4,-13.2],[-3.8,-13.8],[-4.2,-12],[20.8,-9.2],[21.2,-9.6],[21.4,-8.4],[21.8,-10],[21.8,-8.4],[22.2,-9.4],[22.4,-7.8],[22.4,-11],[22.8,-8.6],[22.8,-10.4],[23.2,-9.2],[23.6,-10],[24,-9],[22.2,-10],[23,-8],[22.6,-9],[21.6,-9.2],[23,-9.8]];
const g_cyan=[[-7.4,10.9],[-6.4,7],[-5.8,4.8],[-5.4,13],[-4,15],[-3.6,7.4],[-3.2,9.2],[-3,12.4],[-3.4,14],[-2.6,14.6],[-2.4,6.8],[-2.2,10.4],[-2,15],[-1.8,12.2],[-1.4,13.6],[-1.2,8.6],[-0.8,16],[-0.6,14.2],[-0.6,-4.4],[-0.4,11],[-0.2,13],[0,16.6],[0.2,12.6],[0.4,14.6],[0.6,10.2],[0.8,15.8],[1,12.6],[1.4,16],[1.6,14],[1.8,8.6],[2,16],[2.2,13.2],[2.6,10.4],[3.4,16.2],[3.4,15.4],[3.6,14.4],[3.8,16],[4,14.8],[4.2,15],[4.6,11.6],[5,16],[5.2,10.6],[6.2,6],[6.6,6],[6.4,3.6],[7.2,4],[0.2,-0.6],[-0.6,1],[2,1.4]];

const h_blue=[[14.4,-7.2],[14.8,-7.6],[15,-6.8],[15.4,-6.2],[15.6,-7],[16,-5.6],[16.4,-5],[16.8,-4.4],[17.2,-4],[17.6,-3.2],[18,-2.6],[18.6,-1.8],[19,-1.2],[19.4,-0.6],[19.6,-1],[20,0],[20.4,0.2],[20.8,0.6],[21.2,0.4],[21.4,1],[21.8,1],[22.2,1.8],[22.6,2.2],[23,2.6],[15.2,-6.6],[16.2,-5.4],[18.2,-2.4],[20.2,-0.4],[-23,26.8],[-22.6,25.8],[-11,13.8],[-11.6,14.4],[14.6,-6.6],[15.8,-6],[16.6,-4.8],[17,-4.4],[17.4,-3.5],[17.8,-2.8],[18.4,-2.2],[18.8,-1.4],[19.2,-0.8],[19.8,-0.3],[20.5,0.8],[21,0],[21.1,1],[21.6,0.6],[22,1.3],[22.4,2],[22.8,2.4],[21.4,0.2]];
const h_green=[[2.8,-32.8],[3.2,-33],[3.6,-32.6],[3.8,-32.8],[4.2,-32.4],[4.6,-32.2],[5,-32],[5.4,-31.9],[6,-31.8],[7,-31.5],[3.4,-32.4],[4,-33],[4.4,-32.6],[9.6,-30.9],[10,-30.6],[10.4,-31],[10.8,-30.4],[11.2,-30.6],[11.6,-30.4],[12,-30.6],[12.4,-30],[12.8,-30.4],[13.2,-30.2],[13.6,-30],[14.4,-30.2],[10.2,-30.9],[11,-30.8],[12.6,-30.2]];
const h_purple=[[-23,26.6],[-22.6,26],[-22.4,25.6],[-22,25.2],[-21.8,24.8],[-21.4,24.2],[-21,23.8],[-20.6,23.4],[-20.2,23],[-19.8,22.6],[-19.4,22.2],[-19,21.8],[-18.6,21.4],[-18.2,21],[-17.8,20.6],[-17.4,20.2],[-17,19.8],[-16.6,19.4],[-16.2,19],[-15.4,18.2],[-15,17.8],[-14.6,17.2],[-14,16.4],[-13.4,15.8],[-13,15.2],[-12.6,14.8],[-21.2,24.2],[-20,22.6],[-18,20.6],[-22.8,26],[-22.2,25.4],[-21.6,24.4],[-20.8,23.6],[-20.4,23.2],[-19.6,22.4],[-19.2,22],[-18.8,21.6],[-18.4,21.2],[-17.6,20.4],[-17.2,20],[-16.8,19.6],[-16.4,19.2],[-15.8,18.6],[-13.8,16.2]];
const h_pink=[[-15.2,-2.6],[-15,-2],[-15.1,-1.2],[-14.9,-1.6],[-14.8,-0.6],[-14.6,0],[-14.6,0.8],[-14.4,1.4],[-14.2,2],[-14,2.8],[-13.8,3.2],[-13.6,4],[-13.4,4.6],[-13.4,5.4],[-13,6.4],[-12.8,7],[-12.2,8.4],[-11.8,9.4],[-15.6,17.4],[-14.8,18],[-10.2,13.2],[-10.8,13],[-9.6,13.6],[-14.7,-0.8],[-14.9,-0.2],[-14.4,0.6],[-14.3,1],[-14.1,2.4],[-13.9,3],[-13.7,3.6],[-13.5,5],[-13.2,5.9],[-13.1,6.8],[-15.2,-1.8],[-15,-2.8],[-14.8,-2.2]];
const h_olive=[[-18.8,-27.4],[-18.6,-27.8],[-18.2,-27.2],[-18,-27.6],[-17.6,-27],[-17.2,-27.1],[-16.8,-26.8],[-16.4,-26.6],[-15.8,-26.5],[-15.4,-26.3],[-15,-26.1],[-18.4,-27.5],[-17.8,-27.2],[-17,-27],[37.8,-6.4],[38.4,-6.4],[38.8,-6.6],[39.2,-6.8],[39.6,-7],[40,-7.2],[40.6,-7.4],[41,-7.4],[41.6,-7.4],[42,-7.4],[42.4,-7],[42.6,-6],[38.6,-6.8],[41.2,-7]];
const h_cyan=[[-12.4,8.4],[-12,9.4],[-11.8,11],[-11.4,10.4],[-11,11.2],[-10.8,10.6],[-10.4,11],[-10.2,10.8],[-10,11.2],[-9.4,11.6],[-11,12.6],[-10.6,12.4],[-10.8,14],[-10.4,13],[-9.6,13.8],[-8.2,14],[-7.6,14],[-7.2,14.1],[-5.4,14.8],[-5,14.8],[-4.4,15.2],[-3.8,15.2],[-3.4,15.4],[-2.8,15.6],[-2.2,15.7],[-1.8,15.4],[-1.2,15.8],[-0.6,16],[0,16.1],[0.6,16.4],[1.2,16.5],[1.8,16.8],[2.4,16.9],[3,17.1],[-4.8,15],[-4.2,14.9],[-3,15.2],[-2.4,15.4],[-1.6,15.9],[-0.9,15.7],[-0.3,15.9],[0.3,16.2],[0.9,16.2],[1.5,16.6],[2.1,16.6],[2.7,16.9]];

const panelData=[
 [a_blue,a_green,a_purple,a_pink,a_olive,a_cyan],
 [b_blue,b_green,b_purple,b_pink,b_olive,b_cyan],
 [c_blue,c_green,c_purple,c_pink,c_olive,c_cyan],
 [d_blue,d_green,d_purple,d_pink,d_olive,d_cyan],
 [e_blue,e_green,e_purple,e_pink,e_olive,e_cyan],
 [f_blue,f_green,f_purple,f_pink,f_olive,f_cyan],
 [g_blue,g_green,g_purple,g_pink,g_olive,g_cyan],
 [h_blue,h_green,h_purple,h_pink,h_olive,h_cyan]
];

/* layout only */
const frames=[
 {l:115.5,r:356,t:7.5,b:247,cx:230,base:291},
 {l:380.3,r:621.3,t:7.5,b:246.5,cx:495,base:291},
 {l:647.3,r:887.3,t:7.5,b:246,cx:760.5,base:291},
 {l:912.3,r:1152,t:8.3,b:247,cx:1025.5,base:291},
 {l:116.7,r:356,t:303.3,b:541.3,cx:230,base:584},
 {l:380.3,r:621.3,t:302.7,b:541.3,cx:495,base:584},
 {l:647.3,r:887.3,t:303.7,b:541.3,cx:760,base:584},
 {l:912.3,r:1152,t:303,b:541.3,cx:1025.5,base:584}
];

const svg=d3.select("body").append("svg").attr("width",1150).attr("height",590).attr("viewBox","0 0 1150 590");

const lineY=d3.scalePoint().domain(lineNumbers).range([13,585]);
svg.append("g").selectAll("text").data(lineNumbers).join("text")
 .attr("x",7).attr("y",d=>lineY(d)+7.5)
 .attr("font-family","'Liberation Sans',Arial,sans-serif").attr("font-weight","700").attr("font-size",21)
 .attr("fill","#bdbdbd").text(d=>d);

const fmt=d=>String(d).replace("-","\u2212");
frames.forEach((f,i)=>{
 const x=d3.scaleLinear().domain(xDomains[i]).range([f.l,f.r]);
 const y=d3.scaleLinear().domain(yDomains[i]).range([f.b,f.t]);
 const g=svg.append("g");
 const pts=g.append("g").style("filter","blur(0.35px)");
 panelData[i].forEach((arr,c)=>{
  pts.append("g").attr("class",classNames[c]).selectAll("circle").data(arr).join("circle")
   .attr("cx",d=>x(d[0])).attr("cy",d=>y(d[1])).attr("r",2.4)
   .attr("fill",classColors[c]).attr("fill-opacity",0.72);
 });
 g.append("rect").attr("x",f.l).attr("y",f.t).attr("width",f.r-f.l).attr("height",f.b-f.t)
  .attr("fill","none").attr("stroke","#8c8c8c").attr("stroke-width",1.1);
 const ax=g.append("g").attr("transform",`translate(0,${f.b})`)
  .call(d3.axisBottom(x).tickValues(xTicks[i]).tickFormat(fmt).tickSize(2).tickPadding(2).tickSizeOuter(0));
 const ay=g.append("g").attr("transform",`translate(${f.l},0)`)
  .call(d3.axisLeft(y).tickValues(yTicks[i]).tickFormat(fmt).tickSize(2).tickPadding(2).tickSizeOuter(0));
 [ax,ay].forEach(a=>{
  a.select(".domain").remove();
  a.selectAll("line").attr("stroke","#666").attr("stroke-width",0.6);
  a.selectAll("text").attr("font-family","'DejaVu Sans',sans-serif").attr("font-size",5.4).attr("fill","#555");
 });
 g.append("text").attr("x",f.cx).attr("y",f.base).attr("text-anchor","middle")
  .attr("font-family","'Liberation Serif','Times New Roman',serif").attr("font-size",24).attr("fill","#111")
  .text(captions[i]);
});
</script>
</body></html>
